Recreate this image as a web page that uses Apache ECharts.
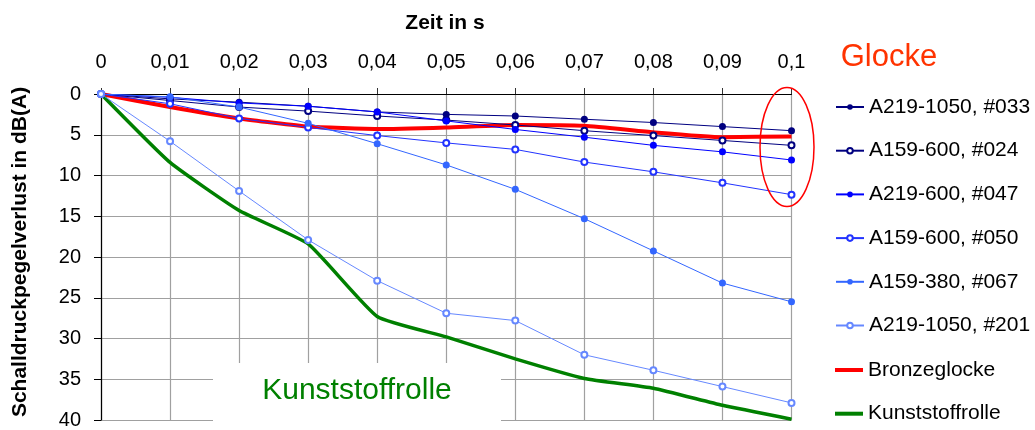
<!DOCTYPE html>
<html>
<head>
<meta charset="utf-8">
<script src="https://cdn.jsdelivr.net/npm/echarts@6/dist/echarts.min.js"></script>
<style>
  html, body { margin: 0; padding: 0; background: #fff; }
  #chart { width: 1035px; height: 430px; }
</style>
</head>
<body>
<div id="chart"></div>
<script>
// Categories (time in s) = x tick labels
const xLabels = ['0', '0,01', '0,02', '0,03', '0,04', '0,05', '0,06', '0,07', '0,08', '0,09', '0,1'];
// y axis ticks
const yMin = 0, yMax = 40, yStep = 5;

// Series names
const seriesNames = ['A219-1050, #033', 'A159-600, #024', 'A219-600, #047', 'A159-600, #050', 'A159-380, #067', 'A219-1050, #201', 'Bronzeglocke', 'Kunststoffrolle'];

// Series values (Schalldruckpegelverlust in dB(A))
const s033 = [0, 0.6, 1.0, 1.5, 2.2, 2.5, 2.7, 3.1, 3.5, 4.0, 4.5];
const s024 = [0, 0.8, 1.6, 2.1, 2.7, 3.2, 3.8, 4.5, 5.1, 5.7, 6.3];
const s047 = [0, 0.4, 1.1, 1.5, 2.2, 3.3, 4.35, 5.3, 6.3, 7.1, 8.1];
const s050 = [0, 1.2, 3.0, 4.1, 5.1, 6.0, 6.8, 8.35, 9.55, 10.9, 12.35];
const s067 = [0, 0.35, 1.6, 3.6, 6.1, 8.7, 11.7, 15.3, 19.25, 23.2, 25.5];
const s201 = [0, 5.8, 11.9, 17.9, 22.9, 26.9, 27.8, 32.0, 33.9, 35.9, 37.9];
const bronze = [0, 1.6, 3.0, 4.0, 4.3, 4.1, 3.8, 3.9, 4.7, 5.3, 5.2];
const kunst = [0, 8.4, 14.3, 18.4, 27.3, 29.8, 32.5, 34.9, 36.1, 38.2, 39.9];

const FONT = 'Liberation Sans, Arial, sans-serif';

function markerSeries(name, data, color, hollow, width) {
  return {
    name: name, type: 'line', data: data, z: 3,
    symbol: hollow ? 'emptyCircle' : 'circle',
    symbolSize: hollow ? 6 : 7,
    showAllSymbol: true,
    lineStyle: { color: color, width: width || 1 },
    itemStyle: { color: color, borderColor: color, borderWidth: hollow ? 1.2 : 0 },
    emphasis: { disabled: true }
  };
}
function plainSeries(name, data, color, width) {
  return {
    name: name, type: 'line', data: data, z: 2,
    symbol: 'none', smooth: 0.15,
    lineStyle: { color: color, width: width },
    itemStyle: { color: color },
    emphasis: { disabled: true }
  };
}

const legendText = { color: '#000', fontSize: 21, fontFamily: FONT, lineHeight: 22 };

const chart = echarts.init(document.getElementById('chart'), null, { renderer: 'canvas' });
chart.setOption({
  animation: false,
  backgroundColor: '#fff',
  textStyle: { fontFamily: FONT },
  grid: { left: 101, right: 243.5, top: 94, bottom: 6, containLabel: false },
  xAxis: {
    type: 'category', data: xLabels, position: 'top', boundaryGap: false,
    axisLine: { show: true, lineStyle: { color: '#000', width: 1.2 } },
    axisTick: { show: true, alignWithLabel: true, length: 6, lineStyle: { color: '#333' } },
    axisLabel: { color: '#000', fontSize: 20, fontFamily: FONT, margin: 22, interval: 0 },
    splitLine: { show: true, lineStyle: { color: '#a0a0a0', width: 1.2 } }
  },
  yAxis: {
    type: 'value', inverse: true, min: yMin, max: yMax, interval: yStep,
    axisLine: { show: true, lineStyle: { color: '#000', width: 1.2 } },
    axisTick: { show: true, length: 7, lineStyle: { color: '#000' } },
    axisLabel: { color: '#000', fontSize: 20, fontFamily: FONT, margin: 20 },
    splitLine: { show: true, lineStyle: { color: '#a0a0a0', width: 1.2 } }
  },
  legend: [
    {
      orient: 'vertical', left: 830, top: 91,
      itemWidth: 28, itemHeight: 7, itemGap: 21.7,
      textStyle: legendText,
      data: seriesNames.slice(0, 6)
    },
    {
      orient: 'vertical', left: 830, top: 354,
      itemWidth: 28, itemHeight: 4, itemGap: 21.7, icon: 'rect',
      textStyle: legendText,
      data: seriesNames.slice(6)
    }
  ],
  graphic: [
    { type: 'rect', z: 1, shape: { x: 213, y: 363, width: 288, height: 70 }, style: { fill: '#fff' } },
    { type: 'text', x: 445, y: 23, style: { text: 'Zeit in s', fontSize: 21, fontWeight: 'bold', fontFamily: FONT, fill: '#000', textAlign: 'center', textVerticalAlign: 'middle' } },
    { type: 'text', x: 20, y: 252, rotation: Math.PI / 2, style: { text: 'Schalldruckpegelverlust in dB(A)', fontSize: 21, fontWeight: 'bold', fontFamily: FONT, fill: '#000', textAlign: 'center', textVerticalAlign: 'middle' } },
    { type: 'text', x: 889, y: 57, style: { text: 'Glocke', fontSize: 31, fontFamily: FONT, fill: '#ff3300', textAlign: 'center', textVerticalAlign: 'middle' } },
    { type: 'text', x: 357, y: 391, z: 5, style: { text: 'Kunststoffrolle', fontSize: 30, fontFamily: FONT, fill: '#008000', textAlign: 'center', textVerticalAlign: 'middle' } },
    { type: 'ellipse', z: 10, shape: { cx: 787, cy: 147, rx: 27, ry: 59.5 }, style: { fill: 'none', stroke: '#ff0000', lineWidth: 1.5 } }
  ],
  series: [
    markerSeries(seriesNames[0], s033, '#000080', false),
    markerSeries(seriesNames[1], s024, '#000080', true),
    markerSeries(seriesNames[2], s047, '#0000ff', false),
    markerSeries(seriesNames[3], s050, '#2233ff', true),
    markerSeries(seriesNames[4], s067, '#3366ff', false),
    markerSeries(seriesNames[5], s201, '#6688ff', true),
    plainSeries(seriesNames[6], bronze, '#ff0000', 4),
    plainSeries(seriesNames[7], kunst, '#008000', 3.5)
  ]
});
</script>
</body>
</html>
